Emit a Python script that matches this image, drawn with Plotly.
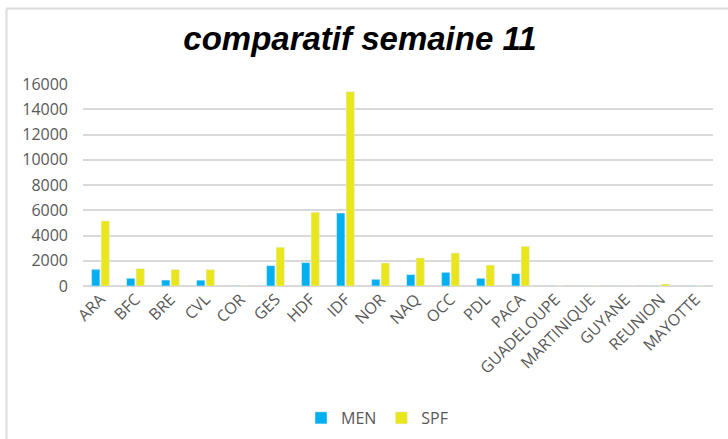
import plotly.graph_objects as go

categories = ["ARA", "BFC", "BRE", "CVL", "COR", "GES", "HDF", "IDF", "NOR", "NAQ",
              "OCC", "PDL", "PACA", "GUADELOUPE", "MARTINIQUE", "GUYANE", "REUNION", "MAYOTTE"]
men = [1320, 610, 470, 460, 30, 1610, 1850, 5780, 530, 900, 1080, 610, 980, 20, 15, 10, 15, 25]
spf = [5150, 1370, 1300, 1300, 30, 3070, 5840, 15390, 1820, 2220, 2610, 1660, 3140, 20, 20, 15, 160, 15]
y_ticks = [0, 2000, 4000, 6000, 8000, 10000, 12000, 14000, 16000]
y_ticktext = [str(v) for v in y_ticks]

W, H = 728, 439
PL, PR, PT, PB = 83, 713, 84, 286  # plot area in pixels
ML, MR, MT, MB = PL, W - PR, PT, H - PB
pw = PR - PL
ph = PB - PT

def px_x(x):
    return (x - PL) / pw

def px_y(y):
    return (PB - y) / ph

fig = go.Figure()
fig.add_trace(go.Bar(name="MEN", x=categories, y=men, marker_color="#00B0F0"))
fig.add_trace(go.Bar(name="SPF", x=categories, y=spf, marker_color="#EAE61C"))

font = dict(family="Open Sans", size=16, color="#595959")

fig.update_layout(
    width=W, height=H,
    margin=dict(l=ML, r=MR, t=MT, b=MB, autoexpand=False),
    paper_bgcolor="white", plot_bgcolor="white",
    barmode="group", bargap=0.457, bargroupgap=0.13,
    font=font,
    title=dict(text="comparatif semaine 11", x=360 / W, xref="container", xanchor="center",
               y=1 - 38 / H, yref="container", yanchor="middle",
               font=dict(family="Liberation Sans", size=33, color="black", weight="bold", style="italic")),
    legend=dict(orientation="h", x=px_x(377), xanchor="center", y=px_y(418), yanchor="middle",
                font=font, itemwidth=30, tracegroupgap=0),
    xaxis=dict(tickangle=-45, showgrid=False, showline=False, ticks="", tickfont=font, automargin=False),
    yaxis=dict(range=[0, 16000], tickvals=y_ticks, ticktext=y_ticktext, showgrid=True, gridcolor="#D9D9D9",
               gridwidth=1.5, zeroline=True, zerolinecolor="#D9D9D9", zerolinewidth=1.5, showline=False,
               ticks="", tickfont=font, ticklabelstandoff=14, automargin=False),
    shapes=[
        dict(type="line", xref="paper", yref="paper", x0=px_x(6.5), x1=px_x(W + 5), y0=px_y(8.5), y1=px_y(8.5),
             line=dict(color="#DCDCDC", width=2)),
        dict(type="line", xref="paper", yref="paper", x0=px_x(6.5), x1=px_x(6.5), y0=px_y(8.5), y1=px_y(H + 5),
             line=dict(color="#DCDCDC", width=2)),
    ],
    showlegend=True,
)

fig.write_html("out.html", config={"displayModeBar": False},
               post_script="document.body.style.margin='0';")
